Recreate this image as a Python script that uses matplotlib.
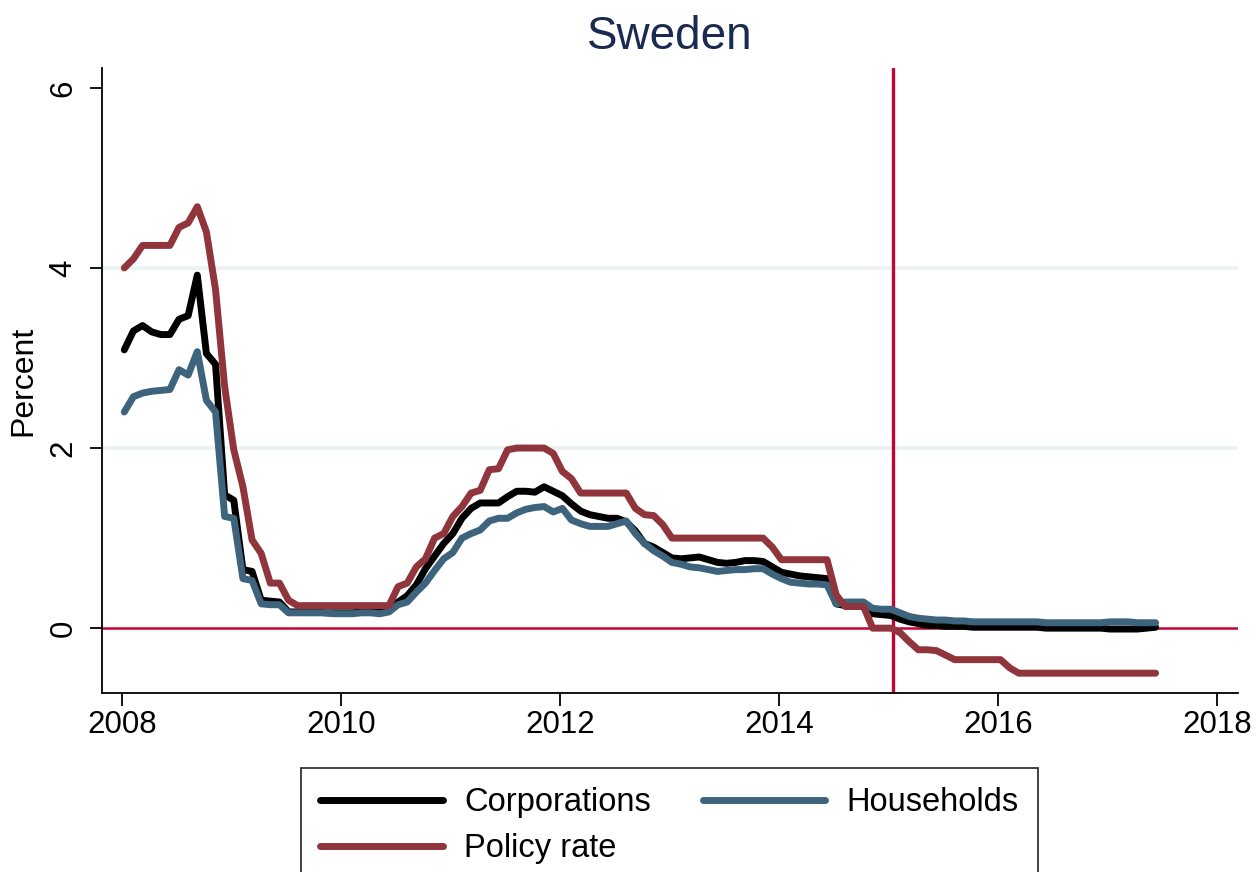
import numpy as np
import pandas as pd
import matplotlib
matplotlib.use("Agg")
import matplotlib.pyplot as plt

plt.rcParams['font.family'] = ['Liberation Sans', 'DejaVu Sans']

# ---- data (monthly, Jan 2008 - Jun 2017) ----
months = pd.period_range('2008-01', '2017-06', freq='M')

policy_rate = [
    4.0, 4.1, 4.25, 4.25, 4.25, 4.25, 4.45, 4.5, 4.68, 4.4,
    3.76, 2.68, 1.98, 1.57, 0.98, 0.83, 0.5, 0.5, 0.31, 0.25,
    0.25, 0.25, 0.25, 0.25, 0.25, 0.25, 0.25, 0.25, 0.25, 0.25,
    0.46, 0.5, 0.68, 0.77, 1.0, 1.05, 1.24, 1.35, 1.5, 1.53,
    1.76, 1.77, 1.98, 2.0, 2.0, 2.0, 2.0, 1.94, 1.74, 1.66,
    1.5, 1.5, 1.5, 1.5, 1.5, 1.5, 1.33, 1.26, 1.25, 1.15,
    1.0, 1.0, 1.0, 1.0, 1.0, 1.0, 1.0, 1.0, 1.0, 1.0,
    1.0, 0.9, 0.76, 0.76, 0.76, 0.76, 0.76, 0.76, 0.37, 0.24,
    0.24, 0.24, 0.0, 0.0, 0.0, -0.05, -0.15, -0.24, -0.24, -0.25,
    -0.3, -0.35, -0.35, -0.35, -0.35, -0.35, -0.35, -0.44, -0.5, -0.5,
    -0.5, -0.5, -0.5, -0.5, -0.5, -0.5, -0.5, -0.5, -0.5, -0.5,
    -0.5, -0.5, -0.5, -0.5,
]

corporations = [
    3.09, 3.3, 3.36, 3.29, 3.26, 3.26, 3.43, 3.47, 3.92, 3.05,
    2.93, 1.48, 1.42, 0.65, 0.63, 0.31, 0.3, 0.29, 0.18, 0.18,
    0.18, 0.18, 0.17, 0.17, 0.17, 0.17, 0.18, 0.18, 0.2, 0.23,
    0.29, 0.36, 0.48, 0.66, 0.8, 0.94, 1.05, 1.22, 1.33, 1.39,
    1.39, 1.39, 1.46, 1.52, 1.52, 1.51, 1.57, 1.52, 1.47, 1.38,
    1.3, 1.26, 1.24, 1.22, 1.22, 1.18, 1.08, 0.94, 0.9, 0.84,
    0.78, 0.77, 0.78, 0.79, 0.76, 0.73, 0.72, 0.73, 0.75, 0.75,
    0.74, 0.68, 0.62, 0.6, 0.58, 0.57, 0.56, 0.55, 0.27, 0.25,
    0.24, 0.24, 0.16, 0.15, 0.14, 0.1, 0.07, 0.05, 0.03, 0.03,
    0.02, 0.02, 0.02, 0.01, 0.01, 0.01, 0.01, 0.01, 0.01, 0.01,
    0.01, 0.0, 0.0, 0.0, 0.0, 0.0, 0.0, 0.0, -0.01, -0.01,
    -0.01, -0.01, 0.0, 0.01,
]

households = [
    2.4, 2.57, 2.61, 2.63, 2.64, 2.65, 2.87, 2.81, 3.07, 2.53,
    2.4, 1.24, 1.22, 0.55, 0.53, 0.27, 0.26, 0.26, 0.17, 0.17,
    0.17, 0.17, 0.17, 0.16, 0.16, 0.16, 0.17, 0.17, 0.16, 0.18,
    0.26, 0.29, 0.4, 0.5, 0.64, 0.77, 0.84, 1.0, 1.05, 1.09,
    1.19, 1.22, 1.22, 1.28, 1.32, 1.34, 1.35, 1.29, 1.33, 1.2,
    1.16, 1.13, 1.13, 1.13, 1.16, 1.19, 1.05, 0.94, 0.86, 0.8,
    0.73, 0.71, 0.68, 0.67, 0.65, 0.63, 0.64, 0.65, 0.65, 0.66,
    0.66, 0.6, 0.55, 0.51, 0.5, 0.49, 0.49, 0.48, 0.27, 0.29,
    0.29, 0.29, 0.22, 0.21, 0.21, 0.17, 0.13, 0.11, 0.1, 0.09,
    0.09, 0.08, 0.08, 0.07, 0.07, 0.07, 0.07, 0.07, 0.07, 0.07,
    0.07, 0.06, 0.06, 0.06, 0.06, 0.06, 0.06, 0.06, 0.07, 0.07,
    0.07, 0.06, 0.06, 0.06,
]

x_ticks = [2008, 2010, 2012, 2014, 2016, 2018]
y_ticks = [0, 2, 4, 6]
event_year = 2015 + 0.5 / 12   # mid-January 2015

t = np.asarray(months.year) + (np.asarray(months.month) - 1 + 0.25) / 12.0

# ---- figure ----
fig = plt.figure(figsize=(12.57, 8.72), dpi=100)
ax = fig.add_axes([0.0811, 0.2053, 0.9038, 0.7167])

C_BLACK = '#000000'
C_BLUE = '#3E647D'
C_RED = '#90353B'
C_LINE = '#C10534'
C_GRID = '#EAF2F3'

for yv in [2, 4]:
    ax.axhline(yv, color=C_GRID, lw=2.6, zorder=0)
ax.axhline(0, color=C_LINE, lw=1.8, zorder=1)
ax.axvline(event_year, color=C_LINE, lw=2.4, zorder=1)

lw = 5.0
h_corp, = ax.plot(t, corporations, color=C_BLACK, lw=lw, label='Corporations',
                  solid_joinstyle='round', solid_capstyle='round', zorder=3)
h_hh, = ax.plot(t, households, color=C_BLUE, lw=lw, label='Households',
                solid_joinstyle='round', solid_capstyle='round', zorder=4)
h_pol, = ax.plot(t, policy_rate, color=C_RED, lw=lw, label='Policy rate',
                 solid_joinstyle='round', solid_capstyle='round', zorder=5)

ax.set_xlim(2007.817, 2018.19)
ax.set_ylim(-0.72, 6.22)
ax.set_xticks(x_ticks)
ax.set_yticks(y_ticks)
ax.set_yticklabels([str(v) for v in y_ticks], rotation=90, va='center')

for s in ['top', 'right']:
    ax.spines[s].set_visible(False)
for s in ['left', 'bottom']:
    ax.spines[s].set_linewidth(1.3)
ax.tick_params(axis='both', direction='out', length=9, width=1.3,
               labelsize=22.5, colors='black')
ax.tick_params(axis='x', pad=3)
ax.tick_params(axis='y', pad=8)

ax.set_ylabel('Percent', fontsize=23, labelpad=7)
ax.set_title('Sweden', fontsize=33, color='#1A2A50', pad=14)

leg = fig.legend(handles=[h_corp, h_pol, h_hh], ncol=2, loc='upper center',
                 bbox_to_anchor=(0.5326, 1 - 768 / 872), fontsize=23.5,
                 frameon=True, fancybox=False, edgecolor='black',
                 handlelength=3.75, handletextpad=0.65, columnspacing=1.6,
                 labelspacing=0.47, borderpad=0.58, borderaxespad=0)
leg.get_frame().set_linewidth(1.3)

fig.savefig('out.png', dpi=100, facecolor='white')
